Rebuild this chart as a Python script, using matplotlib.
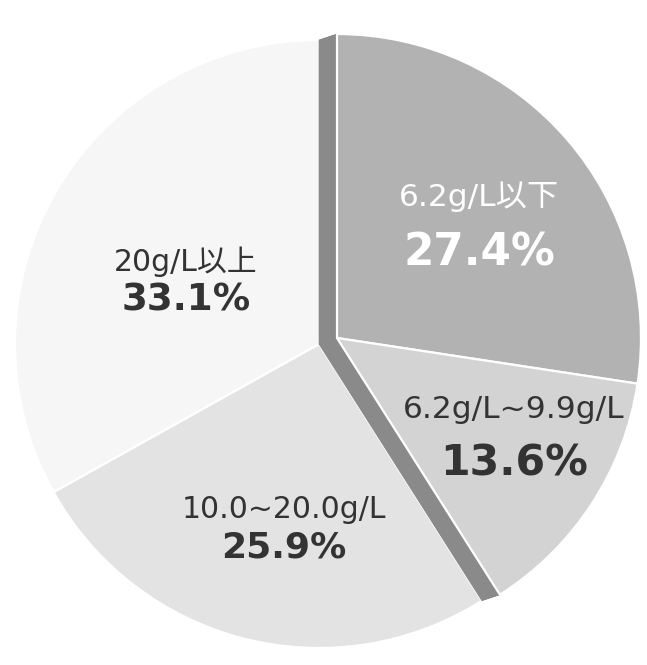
import numpy as np
import matplotlib
matplotlib.use('Agg')
import matplotlib.pyplot as plt

# wide latin face first, CJK face for 以下 / 以上
plt.rcParams['font.family'] = ['DejaVu Sans', 'Noto Sans CJK JP']

# data (clockwise from 12 o'clock)
categories = ['6.2g/L以下', '6.2g/L~9.9g/L', '10.0~20.0g/L', '20g/L以上']
shares = [27.4, 13.6, 25.9, 33.1]
raised = [True, True, False, False]   # the two slices lifted up with a visible side wall

colors = ['#b2b2b2', '#d3d3d3', '#e3e3e3', '#f6f6f6']
wall_color = '#8a8a8a'
text_colors = ['white', '#333333', '#333333', '#333333']

W, H = 647, 665
fig = plt.figure(figsize=(W / 100, H / 100), dpi=100)
ax = fig.add_axes([0, 0, 1, 1])

r = 304
base = np.array([319.0, H - 344.0])
top = np.array([337.0, H - 338.0])
pie_kw = dict(startangle=90, counterclock=False, radius=r)

# base layer
wedges, _ = ax.pie(shares, center=base,
                   colors=[wall_color if f else c for c, f in zip(colors, raised)],
                   wedgeprops=dict(edgecolor='white', linewidth=1.6), **pie_kw)
for w, f in zip(wedges, raised):
    if f:
        w.set_edgecolor(wall_color)
        w.set_linewidth(0.5)

# side wall: sweep the lifted slices from base to top
for t in np.linspace(0, 1, 30):
    c = base + t * (top - base)
    ws, _ = ax.pie(shares, center=c, colors=[wall_color] * 4,
                   wedgeprops=dict(edgecolor=wall_color, linewidth=0.5), **pie_kw)
    for w, f in zip(ws, raised):
        w.set_visible(f)

# lifted slices
ws, _ = ax.pie(shares, center=top, colors=colors,
               wedgeprops=dict(edgecolor='white', linewidth=1.6), **pie_kw)
for w, f in zip(ws, raised):
    w.set_visible(f)

# labels: radial distance (fraction of r) and a small angle nudge per slice
label_frac = [0.597, 0.667, 0.619, 0.484]
label_nudge = [2.2, -3.9, -3.5, -5.0]
gap = [28, 27, 19, 19]
cat_size = [22.5, 22.5, 21.5, 21.5]
pct_size = [31.5, 30.7, 26, 26.8]
frac = np.array(shares) / sum(shares)
mid = (np.cumsum(frac) - frac / 2) * 360
for i, cat in enumerate(categories):
    c = top if raised[i] else base
    ang = np.deg2rad(90 - mid[i] - label_nudge[i])
    x = c[0] + label_frac[i] * r * np.cos(ang)
    y = c[1] + label_frac[i] * r * np.sin(ang)
    ax.text(x, y + gap[i], cat, ha='center', va='center',
            fontsize=cat_size[i], color=text_colors[i])
    ax.text(x, y - gap[i], f'{shares[i]:.1f}%', ha='center', va='center',
            fontsize=pct_size[i], color=text_colors[i], fontweight='bold')

ax.set_xlim(0, W)
ax.set_ylim(0, H)
ax.set_aspect('equal')
ax.axis('off')

fig.savefig('out.png', dpi=100)
